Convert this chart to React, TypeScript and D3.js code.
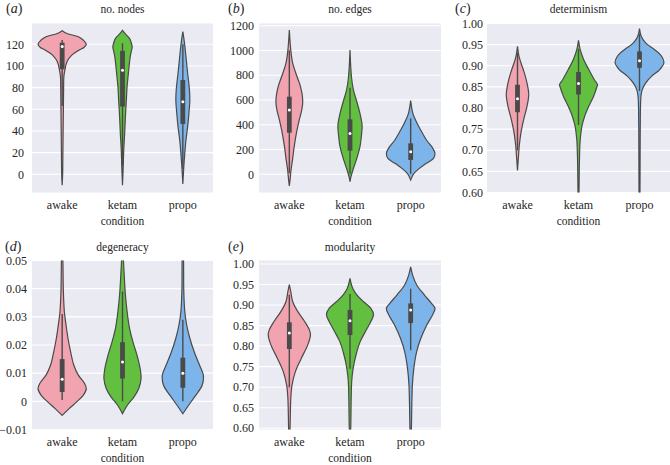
import React from "react";
import * as d3 from "d3";

type Prof = [number, number][];
type Box = [number, number, number, number, number]; // lo, q1, median, q3, hi

const categories = ["awake", "ketam", "propo"];
const colors = ["#f1a3af", "#62bf40", "#7db5ea"];

// (a) no. nodes — [value, relative half-width]
const nodesAwake: Prof = [[132.6,0],[130,0.2],[127,0.67],[124,0.87],[120,1.0],[117,0.9],[115,0.73],[110,0.4],[104,0.2],[96,0.11],[90,0.07],[80,0.06],[60,0.05],[40,0.04],[20,0.03],[0,0.02],[-10,0]];
const nodesKetam: Prof = [[133,0],[130,0.1],[125.5,0.29],[121,0.37],[117,0.4],[115,0.38],[108.6,0.32],[99,0.27],[90,0.23],[81,0.19],[68.6,0.16],[53,0.12],[38,0.09],[22,0.05],[7,0.03],[-10,0]];
const nodesPropo: Prof = [[131.7,0],[121,0.07],[108.6,0.13],[93,0.2],[79,0.27],[68.6,0.29],[56,0.25],[44,0.2],[31.7,0.13],[19,0.08],[7,0.04],[-9,0]];
const nodesBoxes: Box[] = [[63,97,118,121.5,124],[8,62.5,96,114,121],[5,46.5,67,87,120]];
const nodesTicks = [0,20,40,60,80,100,120];

// (b) no. edges
const edgesAwake: Prof = [[1165,0],[1003,0.06],[896,0.14],[788,0.32],[708,0.46],[627,0.54],[573,0.55],[519,0.51],[439,0.41],[331,0.29],[223,0.2],[116,0.13],[35,0.07],[-46,0.03],[-94,0]];
const edgesKetam: Prof = [[1003,0],[788,0.06],[681,0.14],[600,0.26],[492,0.41],[412,0.49],[380,0.5],[331,0.48],[223,0.41],[116,0.26],[35,0.12],[-19,0.04],[-59,0]];
const edgesPropo: Prof = [[595,0],[492,0.09],[439,0.2],[358,0.41],[277,0.65],[223,0.87],[170,1.0],[129,0.94],[89,0.65],[48,0.36],[8,0.14],[-19,0.06],[-46,0]];
const edgesBoxes: Box[] = [[10,336,520,627,1000],[5,191,330,444,700],[5,116,183,250,450]];
const edgesTicks = [0,200,400,600,800,1000,1200];

// (c) determinism
const detAwake: Prof = [[0.946,0],[0.9225,0.06],[0.907,0.14],[0.883,0.28],[0.859,0.39],[0.832,0.46],[0.804,0.39],[0.772,0.25],[0.741,0.14],[0.709,0.07],[0.685,0.04],[0.652,0]];
const detKetam: Prof = [[0.96,0],[0.938,0.07],[0.915,0.21],[0.891,0.42],[0.867,0.65],[0.855,0.78],[0.851,0.76],[0.828,0.62],[0.804,0.42],[0.78,0.25],[0.757,0.14],[0.725,0.07],[0.68,0.04],[0.6,0.02],[0.55,0]];
const detPropo: Prof = [[0.988,0],[0.97,0.07],[0.954,0.25],[0.938,0.62],[0.923,0.9],[0.907,1.0],[0.891,0.83],[0.875,0.49],[0.859,0.25],[0.843,0.11],[0.828,0.06],[0.75,0.03],[0.6,0.02],[0.55,0]];
const detBoxes: Box[] = [[0.70,0.79,0.822,0.855,0.93],[0.76,0.832,0.858,0.885,0.94],[0.84,0.895,0.912,0.934,0.975]];
const detTicks = [0.6,0.65,0.7,0.75,0.8,0.85,0.9,0.95,1.0];

// (d) degeneracy
const degAwake: Prof = [[0.06,0],[0.05,0.03],[0.039,0.05],[0.0319,0.09],[0.0271,0.16],[0.0224,0.24],[0.0176,0.35],[0.0129,0.48],[0.0093,0.67],[0.0063,0.93],[0.0045,1.0],[0.0021,0.87],[-0.0002,0.6],[-0.0026,0.29],[-0.005,0]];
const degKetam: Prof = [[0.06,0],[0.05,0.04],[0.045,0.07],[0.039,0.11],[0.0319,0.19],[0.026,0.29],[0.0212,0.43],[0.0164,0.6],[0.0117,0.73],[0.0081,0.77],[0.0045,0.67],[0.0015,0.47],[-0.0014,0.2],[-0.0044,0]];
const degPropo: Prof = [[0.06,0],[0.05,0.03],[0.039,0.04],[0.0319,0.08],[0.0271,0.16],[0.0224,0.29],[0.0176,0.47],[0.0129,0.69],[0.0093,0.85],[0.0057,0.8],[0.0021,0.53],[-0.0014,0.24],[-0.0044,0]];
const degBoxes: Box[] = [[0.0005,0.0033,0.0078,0.015,0.031],[0.0,0.0081,0.014,0.021,0.039],[0.0,0.0048,0.01,0.0155,0.029]];
const degTicks = [-0.01,0,0.01,0.02,0.03,0.04,0.05];

// (e) modularity
const modAwake: Prof = [[0.95,0],[0.933,0.06],[0.908,0.14],[0.884,0.35],[0.86,0.63],[0.839,0.83],[0.827,0.87],[0.803,0.76],[0.77,0.49],[0.738,0.25],[0.705,0.11],[0.673,0.06],[0.6,0.03],[0.55,0]];
const modKetam: Prof = [[0.965,0],[0.941,0.11],[0.925,0.28],[0.908,0.56],[0.892,0.86],[0.877,0.97],[0.86,0.86],[0.835,0.63],[0.811,0.42],[0.779,0.25],[0.746,0.13],[0.714,0.07],[0.6,0.03],[0.55,0]];
const modPropo: Prof = [[0.993,0],[0.973,0.08],[0.949,0.25],[0.925,0.56],[0.904,0.86],[0.892,1.0],[0.876,0.9],[0.852,0.67],[0.819,0.42],[0.787,0.25],[0.746,0.13],[0.705,0.07],[0.6,0.03],[0.55,0]];
const modBoxes: Box[] = [[0.70,0.793,0.832,0.858,0.925],[0.745,0.827,0.862,0.888,0.927],[0.79,0.856,0.888,0.904,0.94]];
const modTicks = [0.6,0.65,0.7,0.75,0.8,0.85,0.9,0.95,1.0];

const fmtInt = d3.format("d");
const fmt2 = d3.format(".2f");
const fmtDeg = (v: number) => (Math.abs(v) < 1e-9 ? "0" : fmt2(v));

const panels = [
  { id: "a", title: "no. nodes", letter: "a", x: [32, 213], y: [23.5, 192.5], domain: [-16.8, 139.2], ticks: nodesTicks, fmt: fmtInt, profiles: [nodesAwake, nodesKetam, nodesPropo], boxes: nodesBoxes, gap: 8, letterX: 6, row: 0 },
  { id: "b", title: "no. edges", letter: "b", x: [259, 441], y: [23.5, 192.5], domain: [-147, 1218], ticks: edgesTicks, fmt: fmtInt, profiles: [edgesAwake, edgesKetam, edgesPropo], boxes: edgesBoxes, gap: 5, letterX: 228, row: 0 },
  { id: "c", title: "determinism", letter: "c", x: [487, 670], y: [23.5, 192.5], domain: [0.6, 1.0], ticks: detTicks, fmt: fmt2, profiles: [detAwake, detKetam, detPropo], boxes: detBoxes, gap: 4, letterX: 455, row: 0 },
  { id: "d", title: "degeneracy", letter: "d", x: [32, 213], y: [260.5, 429.5], domain: [-0.01, 0.05], ticks: degTicks, fmt: fmtDeg, profiles: [degAwake, degKetam, degPropo], boxes: degBoxes, gap: 5, letterX: 5, row: 1 },
  { id: "e", title: "modularity", letter: "e", x: [259, 441], y: [260.5, 429.5], domain: [0.597, 1.0085], ticks: modTicks, fmt: fmt2, profiles: [modAwake, modKetam, modPropo], boxes: modBoxes, gap: 5, letterX: 228, row: 1 },
];

const rowText = [
  { title: 13, cat: 208.5, cond: 225 },
  { title: 250.5, cat: 446, cond: 462 },
];

const LINE = "#4a4a4a";
const TEXT = "#262626";
const SERIF = "Liberation Serif";

function Label(props: any) {
  const { children, size, ...rest } = props;
  return (
    <text {...rest} fill={TEXT} style={{ fontFamily: SERIF, fontSize: `${size}px` }}>
      {children}
    </text>
  );
}

function Panel({ p }: { p: (typeof panels)[number] }) {
  const [x0, x1] = p.x;
  const [yTop, yBot] = p.y;
  const xs = d3.scaleBand<string>().domain(categories).range([x0, x1]).paddingInner(0).paddingOuter(0);
  const ys = d3.scaleLinear().domain(p.domain).range([yBot, yTop]);
  const maxHalf = xs.bandwidth() * 0.4;
  const rt = rowText[p.row];
  const clipId = `clip-${p.id}`;
  const cxMid = (x0 + x1) / 2;
  return (
    <g>
      <defs>
        <clipPath id={clipId}>
          <rect x={x0} y={yTop} width={x1 - x0} height={yBot - yTop} />
        </clipPath>
      </defs>
      <rect x={x0} y={yTop} width={x1 - x0} height={yBot - yTop} fill="#eaeaf2" />
      {p.ticks.map((t) => (
        <line key={t} x1={x0} x2={x1} y1={ys(t)} y2={ys(t)} stroke="#ffffff" strokeWidth={1.1} />
      ))}
      <g clipPath={`url(#${clipId})`}>
        {categories.map((c, i) => {
          const cx = (xs(c) as number) + xs.bandwidth() / 2;
          const area = d3
            .area<[number, number]>()
            .y((d) => ys(d[0]))
            .x0((d) => cx - d[1] * maxHalf)
            .x1((d) => cx + d[1] * maxHalf)
            .curve(d3.curveCatmullRom.alpha(0.5));
          const b = p.boxes[i];
          return (
            <g key={c}>
              <path d={area(p.profiles[i]) || ""} fill={colors[i]} stroke={LINE} strokeWidth={1.2} />
              <line x1={cx} x2={cx} y1={ys(b[0])} y2={ys(b[4])} stroke={LINE} strokeWidth={1.4} />
              <rect x={cx - 2.4} width={4.8} y={ys(b[3])} height={ys(b[1]) - ys(b[3])} fill={LINE} />
              <circle cx={cx} cy={ys(b[2])} r={1.5} fill="#ffffff" />
            </g>
          );
        })}
      </g>
      {p.ticks.map((t) => (
        <Label key={t} x={x0 - p.gap} y={ys(t) + 4.2} textAnchor="end" size={12}>
          {p.fmt(t)}
        </Label>
      ))}
      {categories.map((c) => (
        <Label key={c} x={(xs(c) as number) + xs.bandwidth() / 2} y={rt.cat} textAnchor="middle" size={12}>
          {c}
        </Label>
      ))}
      <Label x={cxMid} y={rt.cond} textAnchor="middle" size={11.5}>
        condition
      </Label>
      <Label x={cxMid} y={rt.title} textAnchor="middle" size={11.5}>
        {p.title}
      </Label>
      <Label x={p.letterX} y={rt.title} size={14}>
        (<tspan fontStyle="italic">{p.letter}</tspan>)
      </Label>
    </g>
  );
}

export default function App() {
  return (
    <svg width={670} height={465} style={{ position: "absolute", left: 0, top: 0, background: "#ffffff" }}>
      <rect x={0} y={0} width={670} height={465} fill="#ffffff" />
      {panels.map((p) => (
        <Panel key={p.id} p={p} />
      ))}
    </svg>
  );
}
